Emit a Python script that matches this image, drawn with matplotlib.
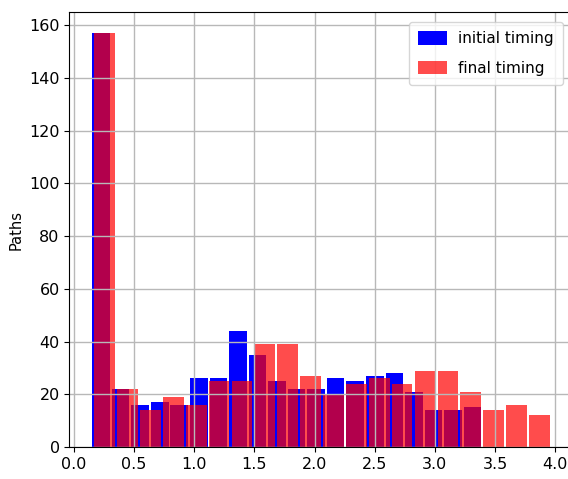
import matplotlib
matplotlib.use('Agg')
import matplotlib.pyplot as plt
import numpy as np

# histogram counts (20 bins each)
init_counts = [157, 22, 16, 17, 16, 26, 26, 44, 35, 25,
               22, 22, 26, 25, 27, 28, 21, 14, 14, 15]
final_counts = [157, 22, 14, 19, 16, 25, 25, 39, 39, 27,
                20, 24, 26, 24, 29, 29, 21, 14, 16, 12]
# data range of each series (min, max)
init_range = (0.144, 3.394)
final_range = (0.161, 3.963)

init_edges = np.linspace(init_range[0], init_range[1], len(init_counts) + 1)
final_edges = np.linspace(final_range[0], final_range[1], len(final_counts) + 1)
init_mid = (init_edges[:-1] + init_edges[1:]) / 2.0
final_mid = (final_edges[:-1] + final_edges[1:]) / 2.0

fig = plt.figure(figsize=(5.68, 4.79), dpi=100)
ax = fig.add_axes([0.1222, 0.0668, 0.8857, 0.9077])

ax.hist(init_mid, bins=init_edges, weights=init_counts, color='blue',
        rwidth=0.9, label='initial timing')
ax.hist(final_mid, bins=final_edges, weights=final_counts, color='red',
        alpha=0.7, rwidth=0.9, label='final timing')

ax.grid(True, color='#b8b8b8', linewidth=1.0)
ax.set_ylabel('Paths', fontsize=10.5)
ax.tick_params(labelsize=11.5)
ax.spines['right'].set_visible(False)
ax.legend(loc='upper right', fontsize=11, labelspacing=0.95, borderpad=0.6,
          handleheight=0.95, handlelength=1.9, handletextpad=0.7,
          borderaxespad=0.65)

fig.savefig('out.png', dpi=100)
